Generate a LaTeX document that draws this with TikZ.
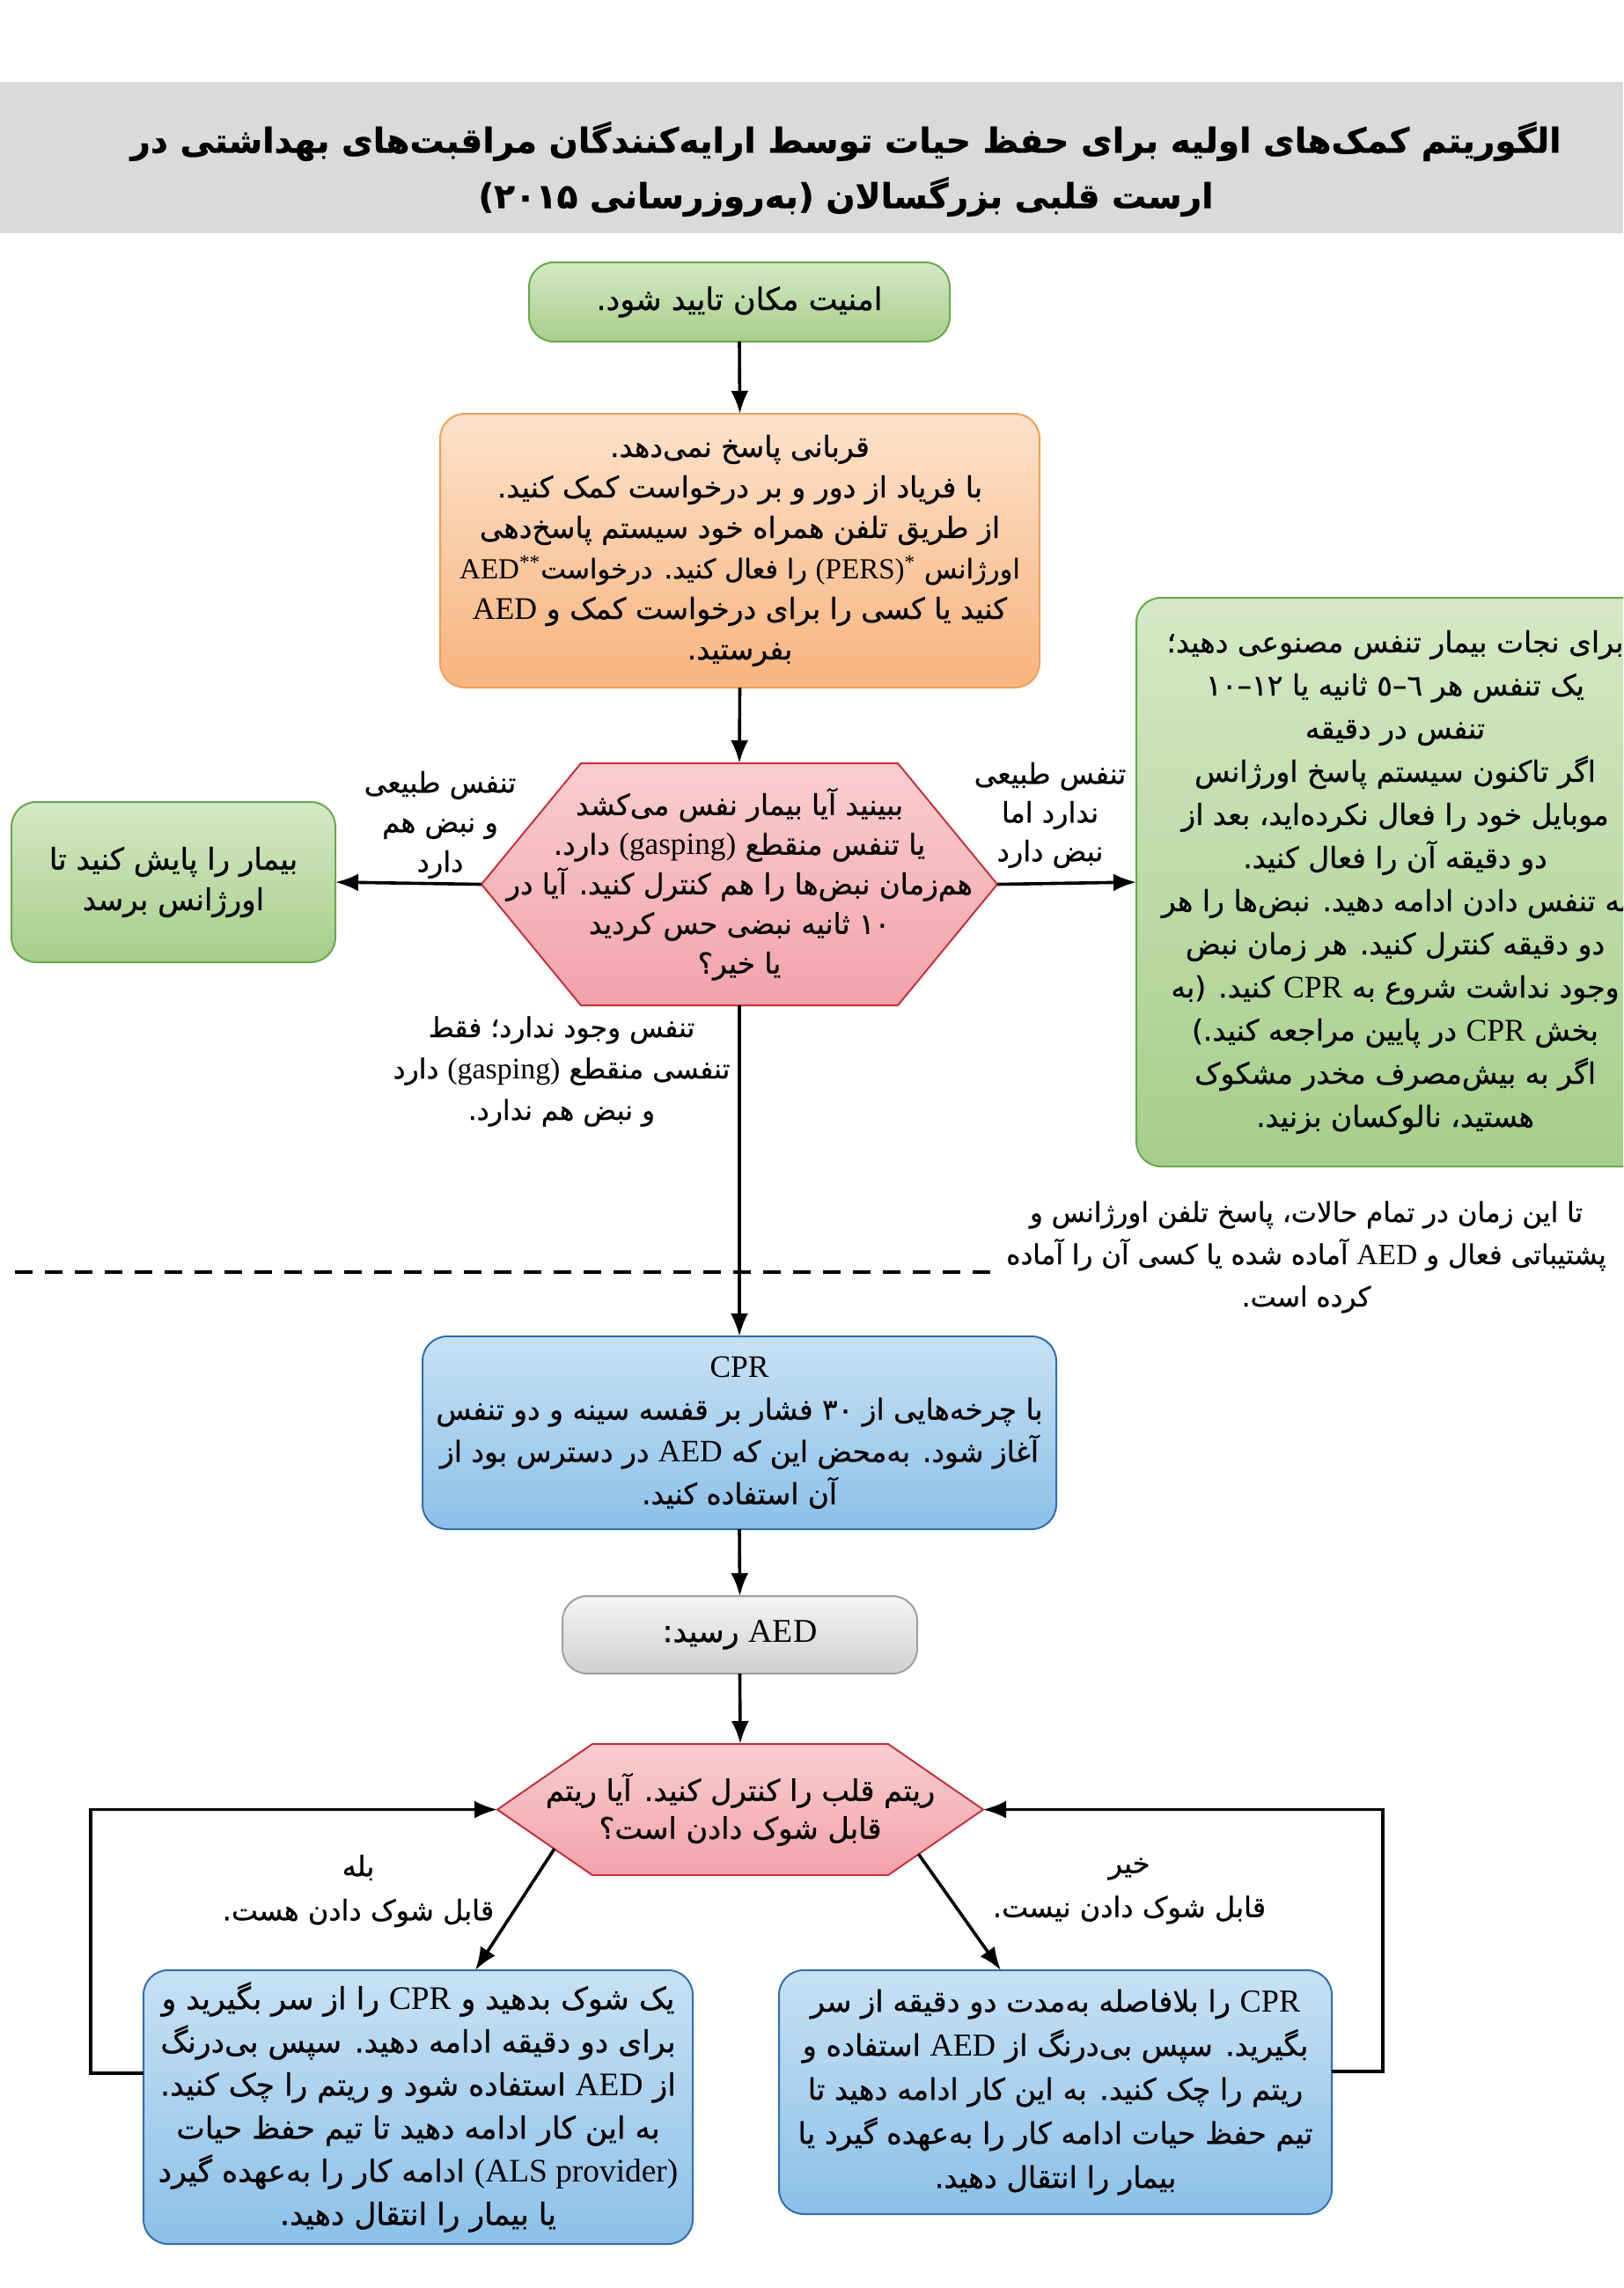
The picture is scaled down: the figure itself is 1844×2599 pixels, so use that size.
\documentclass[tikz,border=0pt]{standalone}
\usepackage{fontspec}
\setmainfont{Liberation Serif}
\newfontfamily\arabicfont[Script=Arabic, FakeBold=0.7]{DejaVu Sans}
\newfontfamily\latinfont[Scale=1.08]{Liberation Serif}
\TeXXeTstate=1
\usetikzlibrary{arrows.meta,calc}
\newcommand{\rline}[1]{\beginR #1\endR}
\newcommand{\ltn}[1]{{\latinfont #1}}
\newcommand{\fsz}[2]{\arabicfont\fontsize{#1}{#2}\selectfont}
\definecolor{bandgray}{RGB}{217,218,220}
\definecolor{grnT}{RGB}{214,232,198}
\definecolor{grnB}{RGB}{166,206,138}
\definecolor{grnD}{RGB}{106,168,79}
\definecolor{orT}{RGB}{253,226,204}
\definecolor{orB}{RGB}{247,180,126}
\definecolor{orD}{RGB}{240,160,90}
\definecolor{pkT}{RGB}{249,206,208}
\definecolor{pkB}{RGB}{242,162,170}
\definecolor{pkD}{RGB}{196,50,60}
\definecolor{blT}{RGB}{200,225,244}
\definecolor{blB}{RGB}{140,192,232}
\definecolor{blD}{RGB}{50,110,175}
\definecolor{gyT}{RGB}{244,244,244}
\definecolor{gyB}{RGB}{208,208,210}
\definecolor{gyD}{RGB}{160,160,160}
\begin{document}
\begin{tikzpicture}[x=0.5pt,y=-0.5pt,
  every node/.style={inner sep=0pt, outer sep=0pt},
  fa/.style={font=\fsz{16}{23}, align=center},
  rbox/.style={rounded corners=14pt, line width=1pt, fa},
  greenbox/.style={rbox, draw=grnD, top color=grnT, bottom color=grnB},
  orangebox/.style={rbox, draw=orD, top color=orT, bottom color=orB},
  bluebox/.style={rbox, draw=blD, top color=blT, bottom color=blB},
  graybox/.style={rbox, draw=gyD, top color=gyT, bottom color=gyB},
  hexa/.style={draw=pkD, line width=1pt, top color=pkT, bottom color=pkB},
  conn/.style={line width=1.8pt, -{Latex[length=13pt,width=10pt]}},
  loopline/.style={line width=1.6pt, -{Latex[length=13pt,width=10pt]}},
  dashline/.style={line width=2pt, dash pattern=on 10pt off 7pt},
  lab/.style={fa}
]
\useasboundingbox (0,0) rectangle (1844,2599);
\clip (0,0) rectangle (1844,2599);

% title band
\node[fill=bandgray, minimum width=922pt, minimum height=86pt] (band) at (922,179) {};
\node[font=\fsz{19.5}{31.5}\bfseries, align=center] (title) at (961,192)
 {\rline{الگوریتم کمک^^^^200cهای اولیه برای حفظ حیات توسط ارایه^^^^200cکنندگان مراقبت^^^^200cهای بهداشتی در}\\
  \rline{ارست قلبی بزرگسالان (به^^^^200cروزرسانی ۲۰۱۵)}};

% top box
\node[greenbox, minimum width=239pt, minimum height=45pt, font=\fsz{17.5}{23}] (safe) at (840,343)
 {\rline{امنیت مکان تایید شود.}};

% orange box
\node[orangebox, minimum width=340.5pt, minimum height=155.5pt, font=\fsz{16.5}{23}] (resp) at (840.5,625.5)
 {\rline{قربانی پاسخ نمی^^^^200cدهد.}\\
  \rline{با فریاد از دور و بر درخواست کمک کنید.}\\
  \rline{از طریق تلفن همراه خود سیستم پاسخ^^^^200cدهی}\\
  \rline{{\fsz{15.3}{23}اورژانس \textsuperscript{\ltn{*}}\ltn{(PERS)} را فعال کنید. درخواست\textsuperscript{\ltn{**}}\ltn{AED}}}\\
  \rline{کنید یا کسی را برای درخواست کمک و \ltn{AED}}\\
  \rline{بفرستید.}};

% hexagon 1
\coordinate (c1) at (840,1004.5);
\coordinate (q1N) at ($(c1)+(0,-137.5)$);
\coordinate (q1S) at ($(c1)+(0,137.5)$);
\coordinate (q1L) at ($(c1)+(-293,0)$);
\coordinate (q1R) at ($(c1)+(293,0)$);
\path[hexa] ($(c1)+(-180,-137.5)$) -- ($(c1)+(180,-137.5)$) -- (q1R) -- ($(c1)+(180,137.5)$) -- ($(c1)+(-180,137.5)$) -- (q1L) -- cycle;
\node[fa, font=\fsz{16.3}{22.5}] (q1) at (c1)
 {\rline{ببینید آیا بیمار نفس می^^^^200cکشد}\\
  \rline{یا تنفس منقطع \ltn{(gasping)} دارد.}\\
  \rline{هم^^^^200cزمان نبض^^^^200cها را هم کنترل کنید. آیا در}\\
  \rline{۱۰ ثانیه نبضی حس کردید}\\
  \rline{یا خیر؟}};

% side boxes
\node[greenbox, minimum width=184pt, minimum height=91pt, font=\fsz{17}{23}] (lgreen) at (197,1002)
 {\rline{بیمار را پایش کنید تا}\\ \rline{اورژانس برسد}};
\node[greenbox, minimum width=294pt, minimum height=323pt, font=\fsz{16.5}{24.5}] (rgreen) at (1585,1002)
 {\rline{برای نجات بیمار تنفس مصنوعی دهید؛}\\
  \rline{یک تنفس هر \beginL\mbox{٥}\mbox{–}\mbox{٦}\endL{} ثانیه یا \beginL\mbox{١٠}\mbox{–}\mbox{١٢}\endL}\\
  \rline{تنفس در دقیقه}\\
  \rline{اگر تاکنون سیستم پاسخ اورژانس}\\
  \rline{موبایل خود را فعال نکرده^^^^200cاید، بعد از}\\
  \rline{دو دقیقه آن را فعال کنید.}\\
  \rline{به تنفس دادن ادامه دهید. نبض^^^^200cها را هر}\\
  \rline{دو دقیقه کنترل کنید. هر زمان نبض}\\
  \rline{وجود نداشت شروع به \ltn{CPR} کنید. (به}\\
  \rline{بخش \ltn{CPR} در پایین مراجعه کنید.)}\\
  \rline{اگر به بیش^^^^200cمصرف مخدر مشکوک}\\
  \rline{هستید، نالوکسان بزنید.}};

% labels around hexagon 1
\node[lab, font=\fsz{16}{22.5}] (lab1) at (500,937)
 {\rline{تنفس طبیعی}\\ \rline{و نبض هم}\\ \rline{دارد}};
\node[lab, font=\fsz{16}{22}] (lab2) at (1193,926)
 {\rline{تنفس طبیعی}\\ \rline{ندارد اما}\\ \rline{نبض دارد}};
\node[lab, font=\fsz{15.7}{23.5}] (lab3) at (638,1217)
 {\rline{تنفس وجود ندارد؛ فقط}\\ \rline{تنفسی منقطع \ltn{(gasping)} دارد}\\ \rline{و نبض هم ندارد.}};

% dashed separator and note
\coordinate (dl1) at (17,1445);
\coordinate (dl2) at (1127,1445);
\draw[dashline] (dl1) -- (dl2);
\node[lab, font=\fsz{15.5}{24}] (note) at (1484,1428)
 {\rline{تا این زمان در تمام حالات، پاسخ تلفن اورژانس و}\\
  \rline{پشتیباتی فعال و \ltn{AED} آماده شده یا کسی آن را آماده}\\
  \rline{کرده است.}};

% CPR box
\node[bluebox, minimum width=360pt, minimum height=109.5pt, font=\fsz{16.4}{24}] (cpr) at (840,1627.5)
 {\rline{\ltn{CPR}}\\
  \rline{با چرخه^^^^200cهایی از ۳۰ فشار بر قفسه سینه و دو تنفس}\\
  \rline{آغاز شود. به^^^^200cمحض این که \ltn{AED} در دسترس بود از}\\
  \rline{آن استفاده کنید.}};

% AED box
\node[graybox, minimum width=201.5pt, minimum height=44pt, font=\fsz{17.5}{23}] (aed) at (840.5,1857)
 {\rline{\ltn{AED} رسید:}};

% hexagon 2
\coordinate (c2) at (841,2055.5);
\coordinate (q2N) at ($(c2)+(0,-74.5)$);
\coordinate (q2L) at ($(c2)+(-276,0)$);
\coordinate (q2R) at ($(c2)+(276,0)$);
\coordinate (q2SW) at ($(c2)+(-168,74.5)$);
\coordinate (q2SE) at ($(c2)+(168,74.5)$);
\path[hexa] ($(c2)+(-168,-74.5)$) -- ($(c2)+(168,-74.5)$) -- (q2R) -- (q2SE) -- (q2SW) -- (q2L) -- cycle;
\node[fa, font=\fsz{16.8}{21.5}] (q2) at (c2)
 {\rline{ریتم قلب را کنترل کنید. آیا ریتم}\\ \rline{قابل شوک دادن است؟}};

\node[lab, font=\fsz{16}{25}] (lab4) at (407,2148)
 {\rline{بله}\\ \rline{قابل شوک دادن هست.}};
\node[lab, font=\fsz{16}{25}] (lab5) at (1283,2148)
 {\rline{خیر}\\ \rline{قابل شوک دادن نیست.}};

% bottom boxes
\node[bluebox, minimum width=312pt, minimum height=155.5pt, font=\fsz{17.3}{24.5}] (lblue) at (475,2393.5)
 {\rline{یک شوک بدهید و \ltn{CPR} را از سر بگیرید و}\\
  \rline{برای دو دقیقه ادامه دهید. سپس بی^^^^200cدرنگ}\\
  \rline{از \ltn{AED} استفاده شود و ریتم را چک کنید.}\\
  \rline{به این کار ادامه دهید تا تیم حفظ حیات}\\
  \rline{\beginL\ltn{(ALS provider)}\endL{} ادامه کار را به^^^^200cعهده گیرد}\\
  \rline{یا بیمار را انتقال دهید.}};
\node[bluebox, minimum width=314pt, minimum height=138.5pt, font=\fsz{16.8}{25}] (rblue) at (1199,2376.5)
 {\rline{\ltn{CPR} را بلافاصله به^^^^200cمدت دو دقیقه از سر}\\
  \rline{بگیرید. سپس بی^^^^200cدرنگ از \ltn{AED} استفاده و}\\
  \rline{ریتم را چک کنید. به این کار ادامه دهید تا}\\
  \rline{تیم حفظ حیات ادامه کار را به^^^^200cعهده گیرد یا}\\
  \rline{بیمار را انتقال دهید.}};

% connectors
\draw[conn] (safe.south) -- (resp.north);
\draw[conn] (resp.south) -- (q1N);
\draw[conn] (q1L) -- (lgreen.east);
\draw[conn] (q1R) -- (rgreen.west);
\draw[conn] (q1S) -- (cpr.north);
\draw[conn] (cpr.south) -- (aed.north);
\draw[conn] (aed.south) -- (q2N);

\coordinate (q2a) at ($(q2L)!0.6!(q2SW)$);
\coordinate (q2b) at ($(q2R)!0.68!(q2SE)$);
\coordinate (lbt) at ($(lblue.north west)+(377,0)$);
\coordinate (rbt) at ($(rblue.north west)+(252,0)$);
\draw[conn] (q2a) -- (lbt);
\draw[conn] (q2b) -- (rbt);

\coordinate (lbw) at ($(lblue.west)+(0,-38.5)$);
\coordinate (lcorner) at (103,2355);
\draw[loopline] (lbw) -- (lcorner) |- (q2L);
\coordinate (rbe) at ($(rblue.east)+(0,-23.5)$);
\coordinate (rcorner) at (1571,2353);
\draw[loopline] (rbe) -- (rcorner) |- (q2R);
\end{tikzpicture}
\end{document}
